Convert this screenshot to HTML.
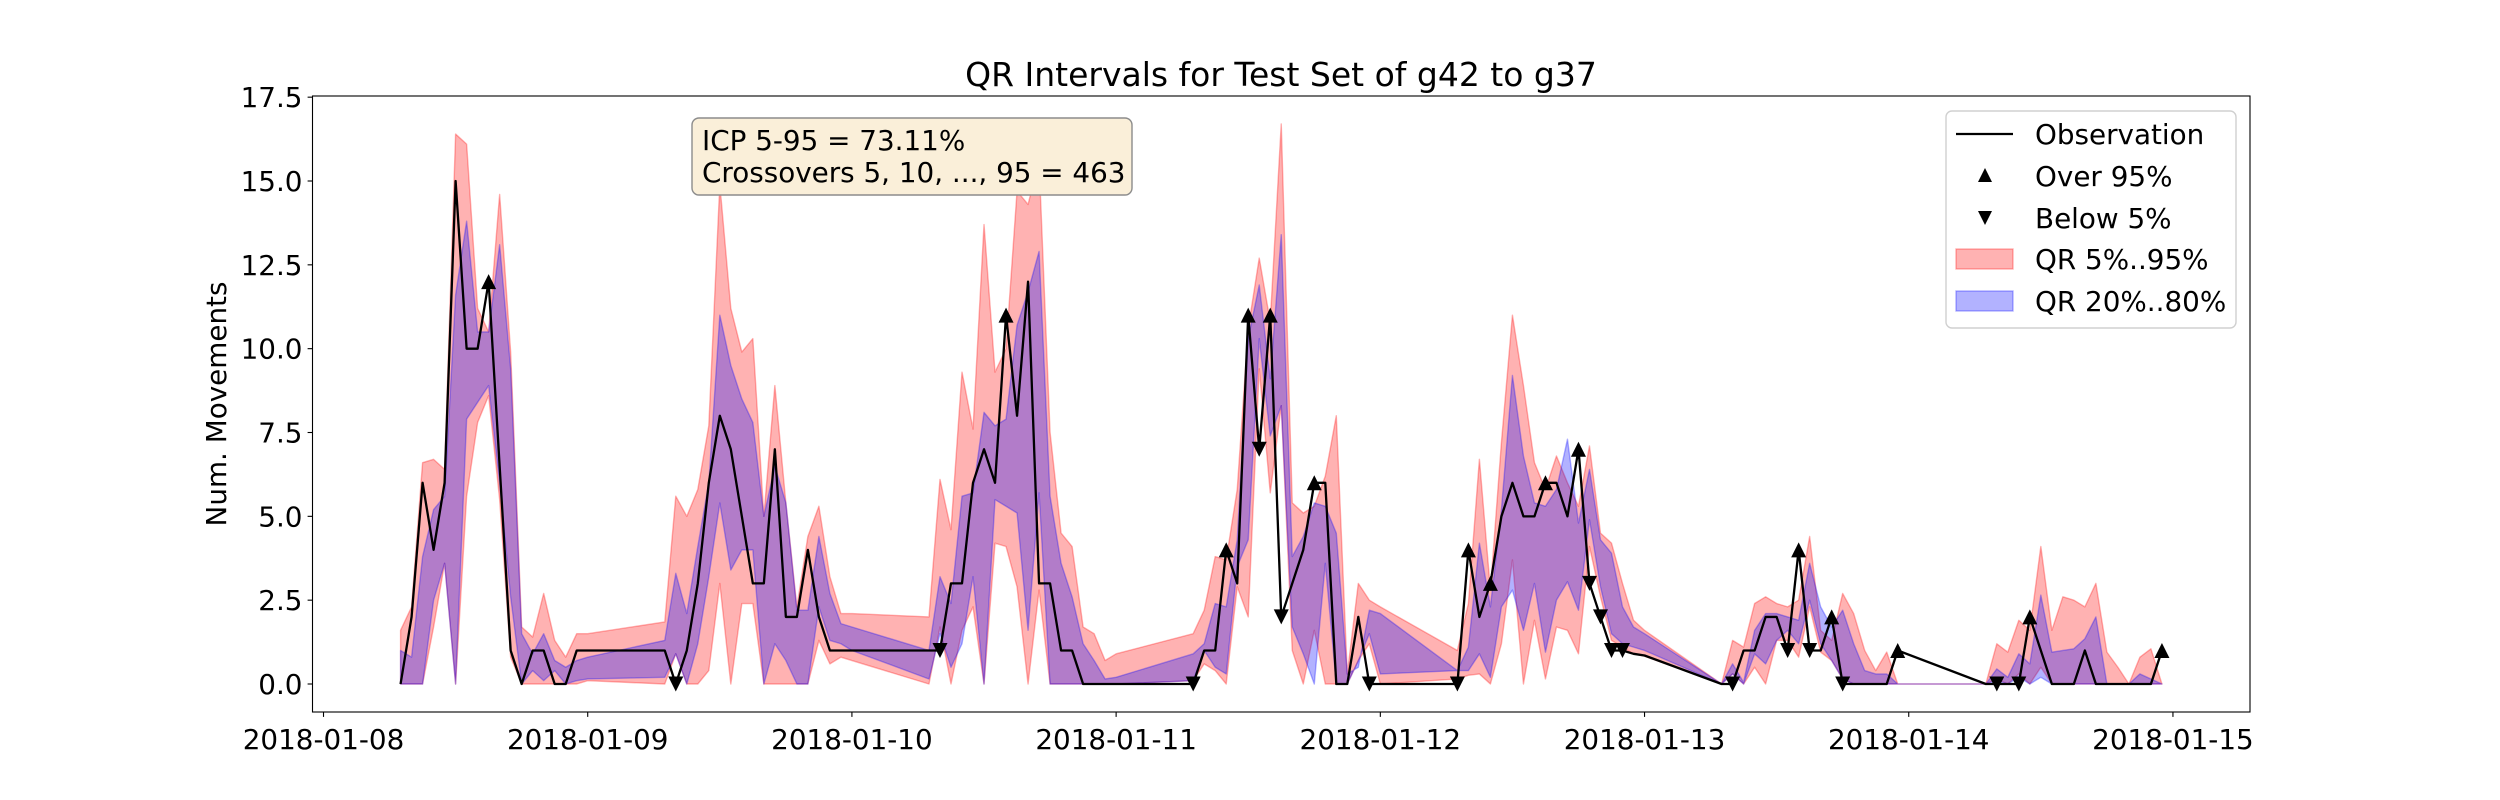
<!DOCTYPE html>
<html><head><meta charset="utf-8">
<style>
html,body{margin:0;padding:0;background:#fff;}
svg{display:block;font-family:"DejaVu Sans","Liberation Sans",sans-serif;}
</style></head>
<body>
<svg id="chart" width="2500" height="800" viewBox="0 0 2500 800" xmlns="http://www.w3.org/2000/svg">
  <rect x="0" y="0" width="2500" height="800" fill="#fff"/>
  <text x="1281" y="86" font-size="33" text-anchor="middle">QR Intervals for Test Set of g42 to g37</text>
  <g id="bands"></g>
  <g id="obsLayer"></g>
  <g id="axes"></g>
  <text transform="translate(226,404) rotate(-90)" font-size="27.8" text-anchor="middle">Num. Movements</text>
  <g>
    <rect x="692" y="118" width="440" height="77" rx="7" ry="7" fill="#faefd9" stroke="#8c8c8c" stroke-width="1.4"/>
    <text x="702" y="150" font-size="27.8">ICP 5-95 = 73.11%</text>
    <text x="702" y="182" font-size="27.8">Crossovers 5, 10, ..., 95 = 463</text>
  </g>
  <g>
    <rect x="1946" y="111" width="290" height="217" rx="6" ry="6" fill="#fff" fill-opacity="0.8" stroke="#d0d0d0" stroke-width="1.4"/>
    <g>
      <line x1="1956" y1="134" x2="2013" y2="134" stroke="#000" stroke-width="2.3"/>
      <text x="2035" y="144" font-size="27.8">Observation</text>
    </g>
    <g>
      <path d="M1985,168 L1992,182 L1978,182 Z" fill="#000"/>
      <text x="2035" y="186" font-size="27.8">Over 95%</text>
    </g>
    <g>
      <path d="M1978,211 L1992,211 L1985,225 Z" fill="#000"/>
      <text x="2035" y="228" font-size="27.8">Below 5%</text>
    </g>
    <g>
      <rect x="1956" y="249" width="57" height="20" fill="rgba(255,0,0,0.3)" stroke="rgba(255,0,0,0.3)" stroke-width="1.4"/>
      <text x="2035" y="269" font-size="27.8">QR 5%..95%</text>
    </g>
    <g>
      <rect x="1956" y="291" width="57" height="20" fill="rgba(0,0,255,0.3)" stroke="rgba(0,0,255,0.3)" stroke-width="1.4"/>
      <text x="2035" y="311" font-size="27.8">QR 20%..80%</text>
    </g>
  </g>
</svg>
<script>
// hours since 2018-01-08 00:00
const hours = [7,8,9,10,11,12,13,14,15,16,17,18,19,20,21,22,23,24,
31,32,33,34,35,36,37,38,39,40,41,42,43,44,45,46,47,48,
55,56,57,58,59,60,61,62,63,64,65,66,67,68,69,70,71,72,
79,80,81,82,83,84,85,86,87,88,89,90,91,92,93,94,95,96,
103,104,105,106,107,108,109,110,111,112,113,114,115,116,117,118,119,120,
127,128,129,130,131,132,133,134,135,136,137,138,139,140,141,142,143,
151,152,153,154,155,156,157,158,159,160,161,162,163,164,165,166,167];
const observed = [0,2,6,4,6,15,10,10,12,6.5,1,0,1,1,0,0,1,1,
1,0,1,3,6,8,7,5,3,3,7,2,2,4,2,1,1,1,
1,1,3,3,6,7,6,11,8,12,3,3,1,1,0,0,0,0,
0,1,1,4,3,11,7,11,2,3,4,6,6,0,0,2,0,0,
0,4,2,3,5,6,5,5,6,6,5,7,3,2,1,1,0.9,0.85,
0,0,1,1,2,2,1,4,1,1,2,0,0,0,0,0,1,
0,0,0,0,2,1,0,0,0,1,0,0,0,0,0,0,1];
const q95 = [1.6,2.3,6.6,6.7,6.4,16.4,16.1,11.2,10.5,14.6,9.9,1.7,1.4,2.7,1.3,0.8,1.5,1.5,
1.85,5.6,5,5.8,7.7,14.9,11.2,9.9,10.3,5,8.9,5.4,2.3,4.4,5.3,3.2,2.1,2.1,
2,6.1,4.6,9.3,7.6,13.7,9.3,10,14.7,14.3,15.6,7.5,4.5,4.1,1.7,1.5,0.7,0.9,
1.5,2.2,3.8,3.7,5.8,10.6,12.7,10.8,16.7,5.4,5.1,5.3,6.2,8,0.3,3,2.5,2.3,
1,2.4,6.7,2.8,7.2,11,8.9,6.6,5.8,6.8,6,5.3,7.1,4.5,4.2,3,1.9,1.6,
0,1.3,1.1,2.4,2.6,2.4,2.3,2.5,4.4,1.6,1.3,2.7,2.1,1,0.4,0.95,0,
0,1.2,0.95,1.9,1.6,4.1,1.6,2.6,2.5,2.3,3,0.95,0.5,0,0.8,1.05,0];
const q05 = [0,0,0,1.7,3.6,0,5.6,7.8,8.6,5.5,0.8,0,0,0,0,0,0,0.1,
0,0.9,0,0,0.4,3,0,2.4,2.4,0,0,0,0,0,1.3,0.6,0.8,0.7,
0,1.7,0,1.6,2.3,0,4.2,4.1,2.9,0,2.8,0,0,0,0,0,0,0,
0.1,0.6,0.4,0,2.9,2,9.4,5.7,8.3,1,0,1.6,0,0,0,0.7,1.2,0,
0.15,0.26,0.3,0,1.2,3.7,0,1.9,0.15,1.7,1.6,0.9,4.1,2.6,1.3,1.1,0.9,0.83,
0,0.3,0,0.5,0,1.3,1.3,0.8,2.3,0.95,0.7,0.15,0,0,0,0,0,
0,0.15,0,0.3,0,0.5,0,0,0,0,0,0,0,0,0,0,0];
const q80 = [1,0.8,3.8,5.2,5.6,11.6,13.8,10.5,10.5,13.1,9.4,1.5,0.9,1.5,0.7,0.5,0.7,0.8,
1.3,3.3,2.1,4.1,6,11,9.5,8.5,7.8,5,6.5,5.4,2.2,2.2,4.4,2.7,1.8,1.7,
1,3.2,2.4,5.6,5.7,8.1,7.7,7.9,10.7,11.7,12.9,5.6,3.6,2.6,1.2,0.7,0.15,0.2,
0.9,1.2,2.4,2.3,4.3,10.3,11.9,9.1,13.4,3.8,4.4,5.4,5.3,4.5,0.3,0.5,2.2,2.1,
0.4,1.1,4.2,2.3,5.2,9.2,6.8,5.4,5.3,5.8,7.3,4.8,6.4,4.3,3.9,2.3,1.7,1.5,
0,0.6,0.05,1.6,2.1,2.1,2,1.9,3.6,2.3,1.7,2.2,1.2,0.4,0.3,0.3,0,
0,0.45,0.2,0.9,0.6,2.65,0.95,1,1.05,1.35,2,0,0,0,0.3,0.15,0];
const q20 = [0,0,0,2.5,3.6,0,7.9,8.4,8.9,6,2.6,0,0.4,0.1,0.4,0,0.1,0.15,
0.2,0.9,0,1.2,3.2,5.4,3.4,4,4,0,1.2,0.7,0,0,2.3,1.3,1.2,1.0,
0.15,1.5,0.5,1.2,3.2,0,5.5,5.3,5.1,1.6,5.7,0,0,0,0,0,0,0,
0.1,1,0.5,0.3,3.5,4.3,10.3,7.4,8.3,1.7,0.9,0,3.6,0,0,0.7,1.5,0.3,
0.4,0.4,0.9,0.2,2.3,2.8,1.6,3,0.95,2.5,3.05,2.2,4.9,2.9,1.5,1.2,1.1,1.0,
0,0.3,0,0.9,0.6,1.3,1.6,1.2,2.5,1.2,0.7,0.15,0,0,0,0,0,
0,0.1,0,0.2,0,0.2,0,0,0,0,0,0,0,0,0,0,0];
const yTicks = [0,2.5,5,7.5,10,12.5,15,17.5];
const yTickLabels = ["0.0","2.5","5.0","7.5","10.0","12.5","15.0","17.5"];
const xTicksDays = [0,1,2,3,4,5,6,7];
const xTickLabels = ["2018-01-08","2018-01-09","2018-01-10","2018-01-11","2018-01-12","2018-01-13","2018-01-14","2018-01-15"];

const NS = "http://www.w3.org/2000/svg";
const AX = {left:312.5, right:2250, top:96, bottom:712};
const xMin = -1, xMax = 175, yMin = -0.835, yMax = 17.535;
function xScale(h){ return AX.left + (h - xMin) / (xMax - xMin) * (AX.right - AX.left); }
function yScale(v){ return AX.bottom - (v - yMin) / (yMax - yMin) * (AX.bottom - AX.top); }
function mk(tag, attrs, parent){ const e = document.createElementNS(NS, tag); for (const k in attrs) e.setAttribute(k, attrs[k]); parent.appendChild(e); return e; }

const bands = document.getElementById('bands');
function bandPath(lo, hi){
  let d = '';
  for (let i = 0; i < hours.length; i++) d += (i ? 'L' : 'M') + xScale(hours[i]).toFixed(2) + ',' + yScale(hi[i]).toFixed(2);
  for (let i = hours.length - 1; i >= 0; i--) d += 'L' + xScale(hours[i]).toFixed(2) + ',' + yScale(lo[i]).toFixed(2);
  return d + 'Z';
}
const b1 = mk('path', {d: bandPath(q05, q95), fill: 'rgba(255,0,0,0.3)', stroke: 'rgba(255,0,0,0.3)', 'stroke-width': 1.4, 'stroke-linejoin': 'round'}, bands);


const b2 = mk('path', {d: bandPath(q20, q80), fill: 'rgba(0,0,255,0.3)', stroke: 'rgba(0,0,255,0.3)', 'stroke-width': 1.4, 'stroke-linejoin': 'round'}, bands);



const obsLayer = document.getElementById('obsLayer');
let od = '';
for (let i = 0; i < hours.length; i++) od += (i ? 'L' : 'M') + xScale(hours[i]).toFixed(2) + ',' + yScale(observed[i]).toFixed(2);
const ol = mk('path', {d: od, fill: 'none', stroke: '#000', 'stroke-width': 2.3, 'stroke-linejoin': 'round'}, obsLayer);


const s = 7.5;
for (let i = 0; i < hours.length; i++) {
  const x = xScale(hours[i]), y = yScale(observed[i]);
  if (observed[i] > q95[i]) {
    const m = mk('path', {d: `M${x},${y - s} L${x + s},${y + s} L${x - s},${y + s} Z`, fill: '#000'}, obsLayer);
    
    
  } else if (observed[i] < q05[i]) {
    const m = mk('path', {d: `M${x - s},${y - s} L${x + s},${y - s} L${x},${y + s} Z`, fill: '#000'}, obsLayer);
    
    
  }
}

const axes = document.getElementById('axes');
const frame = mk('rect', {x: AX.left, y: AX.top, width: AX.right - AX.left, height: AX.bottom - AX.top, fill: 'none', stroke: '#000', 'stroke-width': 1.1}, axes);


for (let i = 0; i < yTicks.length; i++) {
  const y = yScale(yTicks[i]);
  const t = mk('line', {x1: AX.left - 4.9, x2: AX.left, y1: y, y2: y, stroke: '#000', 'stroke-width': 1.1}, axes);
  
  
  const l = mk('text', {x: AX.left - 10, y: y + 10, 'font-size': 27.8, 'text-anchor': 'end'}, axes);
  l.textContent = yTickLabels[i];
  
  
}
for (let i = 0; i < xTicksDays.length; i++) {
  const x = xScale(xTicksDays[i] * 24);
  const t = mk('line', {x1: x, x2: x, y1: AX.bottom, y2: AX.bottom + 4.9, stroke: '#000', 'stroke-width': 1.1}, axes);
  
  
  const l = mk('text', {x: x, y: AX.bottom + 37, 'font-size': 27.8, 'text-anchor': 'middle'}, axes);
  l.textContent = xTickLabels[i];
  
  
}
</script>
</body></html>
